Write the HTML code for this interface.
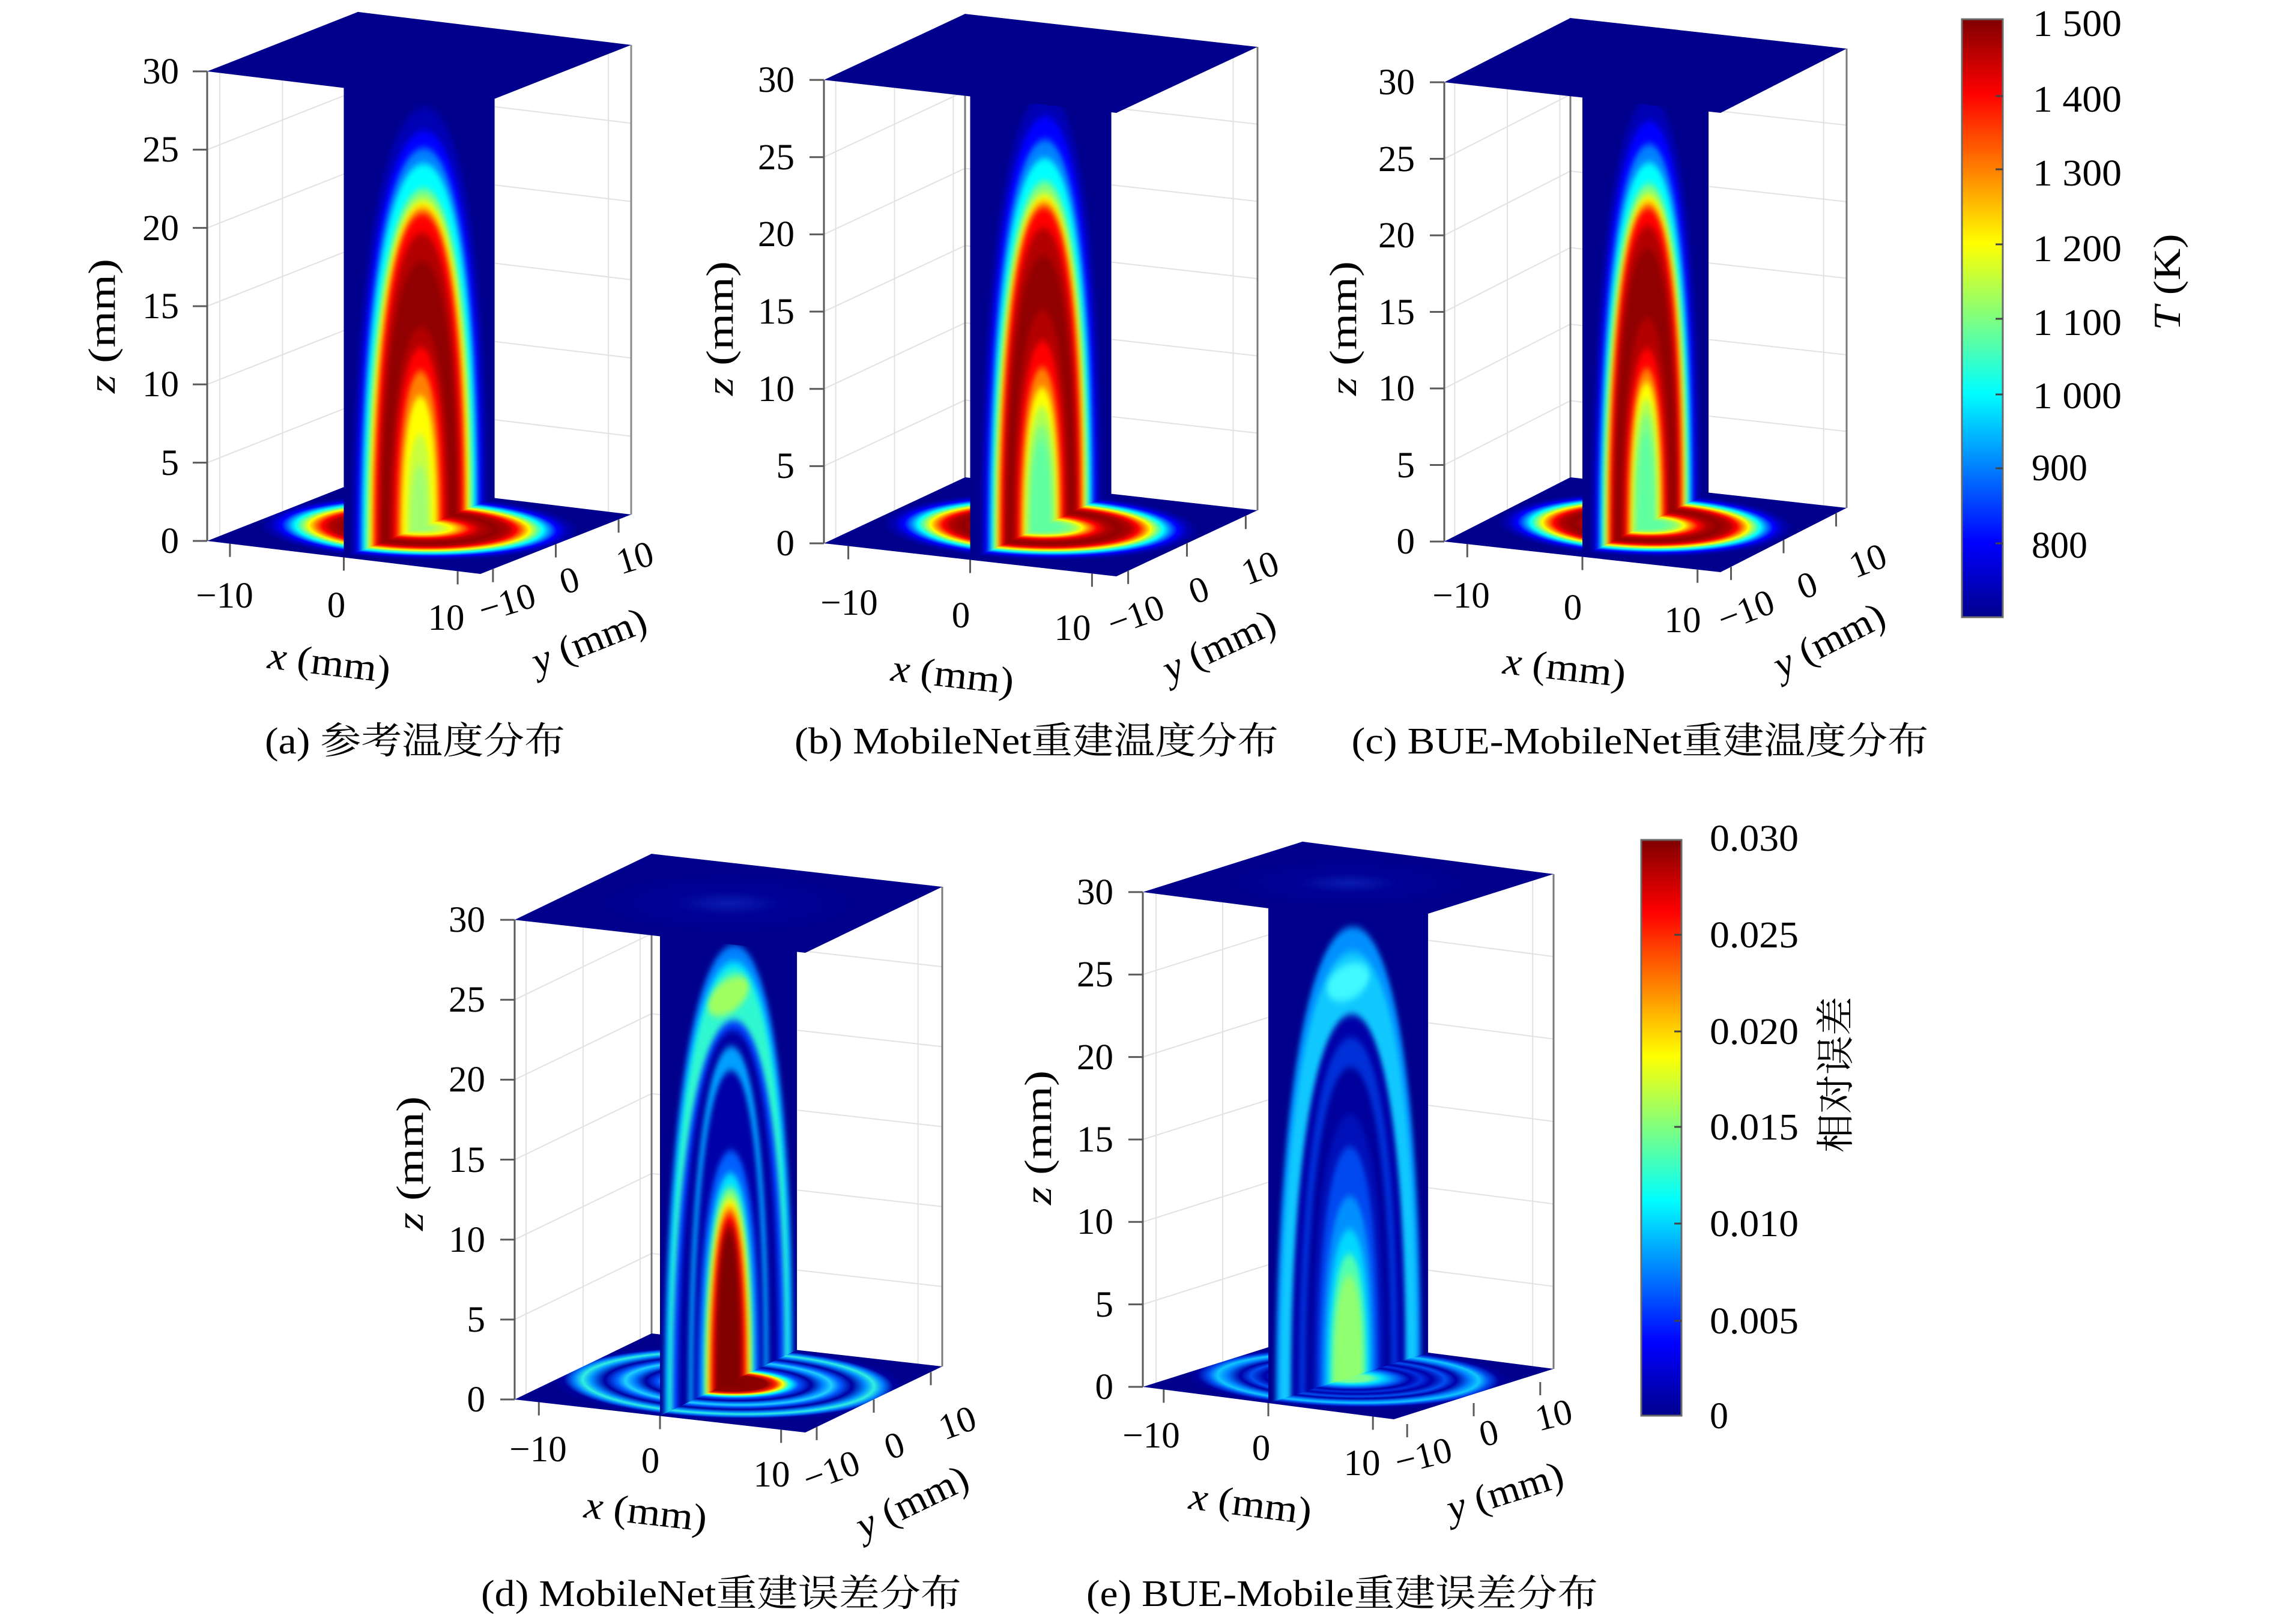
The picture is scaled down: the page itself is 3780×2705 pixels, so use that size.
<!DOCTYPE html>
<html>
<head>
<meta charset="utf-8">
<style>
html,body{margin:0;padding:0;background:#fff}
svg{display:block}
text{font-family:"Liberation Serif","Noto Serif CJK SC",serif;fill:#000}
.tk{font-size:61px}
.al{font-size:64px}
.cp{font-size:62px}
.cb{font-size:62px}
</style>
</head>
<body>
<svg xmlns="http://www.w3.org/2000/svg" width="3780" height="2705" viewBox="0 0 3780 2705">
<defs>
<path id="ar" d="M-1,-0.5L-1,0C-1,0.6 -0.6,1 0,1C0.6,1 1,0.6 1,0L1,-0.5Z"/>
<path id="gr" d="M-10,0V30M0,0V30M10,0V30M-12,5H12M-12,10H12M-12,15H12M-12,20H12M-12,25H12" fill="none" stroke="#e2e2e2" stroke-width="2" vector-effect="non-scaling-stroke"/>
<rect id="sq" x="-12" y="-12" width="24" height="24"/>
<filter id="blr" x="-3%" y="-3%" width="106%" height="106%" color-interpolation-filters="sRGB"><feGaussianBlur stdDeviation="4 6"/></filter>

<linearGradient id="jet" x1="0" y1="0" x2="0" y2="1">
<stop offset="0" stop-color="#800000"/><stop offset="0.125" stop-color="#ff0000"/><stop offset="0.375" stop-color="#ffff00"/><stop offset="0.625" stop-color="#00ffff"/><stop offset="0.875" stop-color="#0000ff"/><stop offset="1" stop-color="#00008c"/>
</linearGradient>

<radialGradient id="fa" gradientUnits="userSpaceOnUse" cx="0" cy="0" r="12" gradientTransform="scale(1.12,1)">
<stop offset="0" stop-color="#a0ff70"/><stop offset="0.06" stop-color="#a0ff70"/><stop offset="0.13" stop-color="#c8ff40"/><stop offset="0.19" stop-color="#ffff00"/><stop offset="0.245" stop-color="#ff8000"/><stop offset="0.3" stop-color="#ff0000"/><stop offset="0.36" stop-color="#b30000"/><stop offset="0.445" stop-color="#900000"/><stop offset="0.521" stop-color="#b30000"/><stop offset="0.567" stop-color="#ff0000"/><stop offset="0.608" stop-color="#ff8000"/><stop offset="0.646" stop-color="#ffff00"/><stop offset="0.683" stop-color="#80ff80"/><stop offset="0.725" stop-color="#00ffff"/><stop offset="0.767" stop-color="#0080ff"/><stop offset="0.808" stop-color="#0000ff"/><stop offset="0.867" stop-color="#0000b3"/><stop offset="0.933" stop-color="#00008c"/><stop offset="1" stop-color="#00008c"/>
</radialGradient>
<radialGradient id="fb" gradientUnits="userSpaceOnUse" cx="0" cy="0" r="12" gradientTransform="scale(1.12,1)">
<stop offset="0" stop-color="#60ffa0"/><stop offset="0.1" stop-color="#60ffa0"/><stop offset="0.1625" stop-color="#80ff80"/><stop offset="0.2" stop-color="#b3ff4d"/><stop offset="0.233" stop-color="#ffff00"/><stop offset="0.271" stop-color="#ff8000"/><stop offset="0.317" stop-color="#ff0000"/><stop offset="0.367" stop-color="#b30000"/><stop offset="0.4375" stop-color="#900000"/><stop offset="0.504" stop-color="#b30000"/><stop offset="0.546" stop-color="#ff0000"/><stop offset="0.583" stop-color="#ff8000"/><stop offset="0.617" stop-color="#ffff00"/><stop offset="0.65" stop-color="#80ff80"/><stop offset="0.6875" stop-color="#00ffff"/><stop offset="0.725" stop-color="#0080ff"/><stop offset="0.767" stop-color="#0000ff"/><stop offset="0.821" stop-color="#0000b3"/><stop offset="0.883" stop-color="#00008c"/><stop offset="1" stop-color="#00008c"/>
</radialGradient>
<radialGradient id="fd" gradientUnits="userSpaceOnUse" cx="0" cy="0" r="12" gradientTransform="scale(1.12,1)">
<stop offset="0" stop-color="#800000"/><stop offset="0.217" stop-color="#900000"/><stop offset="0.267" stop-color="#ff2000"/><stop offset="0.308" stop-color="#ffff00"/><stop offset="0.35" stop-color="#00ffff"/><stop offset="0.4" stop-color="#0050ff"/><stop offset="0.467" stop-color="#0000a0"/><stop offset="0.533" stop-color="#0080ff"/><stop offset="0.583" stop-color="#20d0ff"/><stop offset="0.633" stop-color="#0060ff"/><stop offset="0.7" stop-color="#0000a0"/><stop offset="0.775" stop-color="#0090ff"/><stop offset="0.825" stop-color="#30f0e0"/><stop offset="0.875" stop-color="#0080ff"/><stop offset="0.933" stop-color="#0000a0"/><stop offset="1" stop-color="#00008c"/>
</radialGradient>
<radialGradient id="fe" gradientUnits="userSpaceOnUse" cx="0" cy="0" r="12" gradientTransform="scale(1.12,1)">
<stop offset="0" stop-color="#90ff70"/><stop offset="0.133" stop-color="#70ffa0"/><stop offset="0.208" stop-color="#00e0ff"/><stop offset="0.258" stop-color="#00a0ff"/><stop offset="0.317" stop-color="#0050f0"/><stop offset="0.383" stop-color="#0000a8"/><stop offset="0.45" stop-color="#0030e0"/><stop offset="0.517" stop-color="#0000a8"/><stop offset="0.6" stop-color="#0050f0"/><stop offset="0.667" stop-color="#0000a8"/><stop offset="0.75" stop-color="#0080ff"/><stop offset="0.808" stop-color="#10c8ff"/><stop offset="0.867" stop-color="#0050f0"/><stop offset="0.933" stop-color="#0000a0"/><stop offset="1" stop-color="#00008c"/>
</radialGradient>
<radialGradient id="ft" gradientUnits="userSpaceOnUse" cx="0" cy="0" r="10">
<stop offset="0" stop-color="#0a1cb0"/><stop offset="0.4" stop-color="#000096"/><stop offset="1" stop-color="#00008c"/>
</radialGradient>

<clipPath id="ca"><polygon points="572.48,928.5 823.52,829.5 823.52,47.4 572.48,146.4"/></clipPath>
<clipPath id="cbb"><polygon points="1615.52,932.46 1850.48,822.54 1850.48,50.64 1615.52,160.56"/></clipPath>
<clipPath id="cc"><polygon points="2635,927.52 2845,820.48 2845,55.48 2635,162.52"/></clipPath>
<clipPath id="cd"><polygon points="1099,2358.46 1327,2248.54 1327,1449.64 1099,1559.56"/></clipPath>
<clipPath id="ce"><polygon points="2112.04,2337 2377.96,2253 2377.96,1428.9 2112.04,1512.9"/></clipPath>
</defs>

<rect width="3780" height="2705" fill="#fff"/>

<!-- ================= Panel (a) ================= -->
<g>
<use href="#gr" transform="matrix(10.46,-4.125,0,-26.07,470.48,851.52)"/>
<use href="#gr" transform="matrix(18.96,2.29,0,-26.07,823.52,829.5)"/>
<path d="M596,19.9V802M1051,74.9V857" stroke="#8a8a8a" stroke-width="3" fill="none"/>
<path d="M345,118.9V901" stroke="#5a5a5a" stroke-width="3" fill="none"/>
<g transform="matrix(18.96,2.29,10.46,-4.125,698,879)"><use href="#sq" fill="url(#fa)"/></g>
<g clip-path="url(#ca)"><g filter="url(#blr)"><g transform="matrix(10.46,-4.125,0,-26.07,698,879)">
<rect x="-13" y="-14" width="26" height="46" fill="#00008c"/>
<use href="#ar" transform="scale(10.7,26.8)" fill="#0000b3"/>
<use href="#ar" transform="scale(10,25.3)" fill="#0000ff"/>
<use href="#ar" transform="scale(9.4,24.2)" fill="#0080ff"/>
<use href="#ar" transform="scale(9,23.2)" fill="#00ffff"/>
<use href="#ar" transform="scale(8.4,21.6)" fill="#80ff80"/>
<use href="#ar" transform="scale(8,20.9)" fill="#ffff00"/>
<use href="#ar" transform="scale(7.5,20.4)" fill="#ff8000"/>
<use href="#ar" transform="scale(7.1,20)" fill="#ff0000"/>
<use href="#ar" transform="scale(6.5,18.8)" fill="#b30000"/>
<use href="#ar" transform="scale(6,17)" fill="#900000"/>
<use href="#ar" transform="scale(4.7,12.8)" fill="#b30000"/>
<use href="#ar" transform="scale(4.1,11.5)" fill="#ff0000"/>
<use href="#ar" transform="scale(3.4,10)" fill="#ff8000"/>
<use href="#ar" transform="scale(2.8,8.4)" fill="#ffff00"/>
<use href="#ar" transform="scale(2,6)" fill="#c8ff40"/>
<use href="#ar" transform="scale(1.4,4)" fill="#a0ff70"/>
</g></g></g>
<g transform="matrix(18.96,2.29,10.46,-4.125,698,96.9)"><use href="#sq" fill="#00008c"/></g>
<path d="M321,901H345M321,770.65H345M321,640.3H345M321,509.95H345M321,379.6H345M321,249.25H345M321,118.9H345M382.9,905.6v22M572.5,928.5v22M762.1,951.4v22M820.9,947.7v22M925.5,906.5v22M1030.1,865.2v22" stroke="#5a5a5a" stroke-width="3" fill="none"/>
<g class="tk" text-anchor="end">
<text x="298" y="921">0</text><text x="298" y="791">5</text><text x="298" y="660">10</text><text x="298" y="530">15</text><text x="298" y="400">20</text><text x="298" y="269">25</text><text x="298" y="139">30</text>
</g>
<g class="tk" text-anchor="middle">
<text x="374" y="1012">−10</text><text x="560" y="1028">0</text><text x="743" y="1049">10</text>
<text transform="translate(844,1003) rotate(-17)" y="21">−10</text>
<text transform="translate(948,966) rotate(-17)" y="21">0</text>
<text transform="translate(1057,928) rotate(-17)" y="21">10</text>
</g>
<text class="al" transform="translate(548,1107) rotate(6.9)" y="18" text-anchor="middle" textLength="205" lengthAdjust="spacingAndGlyphs"><tspan font-style="italic">x</tspan> (mm)</text>
<text class="al" transform="translate(982,1070) rotate(-21.5)" y="18" text-anchor="middle" textLength="200" lengthAdjust="spacingAndGlyphs"><tspan font-style="italic">y</tspan> (mm)</text>
<text class="al" transform="translate(173,543) rotate(-90)" y="18" text-anchor="middle" textLength="224" lengthAdjust="spacingAndGlyphs"><tspan font-style="italic">z</tspan> (mm)</text>
<text class="cp" x="691" y="1255" text-anchor="middle" textLength="500" lengthAdjust="spacingAndGlyphs">(a) 参考温度分布</text>
</g>

<!-- ================= Panel (b) ================= -->
<g>
<use href="#gr" transform="matrix(9.79,-4.58,0,-25.73,1489.52,850.02)"/>
<use href="#gr" transform="matrix(20.29,2.29,0,-25.73,1850.48,822.54)"/>
<path d="M1607,23.2V795.1M2094,78.1V850" stroke="#7a7a7a" stroke-width="3" fill="none"/>
<path d="M1372,133.1V905" stroke="#5a5a5a" stroke-width="3" fill="none"/>
<g transform="matrix(20.29,2.29,9.79,-4.58,1733,877.5)"><use href="#sq" fill="url(#fb)"/></g>
<g clip-path="url(#cbb)"><g filter="url(#blr)"><g transform="matrix(9.79,-4.58,0,-25.73,1733,877.5)">
<rect x="-13" y="-14" width="26" height="46" fill="#00008c"/>
<use href="#ar" transform="scale(10.2,28)" fill="#0000b3"/>
<use href="#ar" transform="scale(9.5,26.5)" fill="#0000ff"/>
<use href="#ar" transform="scale(8.9,25)" fill="#0080ff"/>
<use href="#ar" transform="scale(8.5,23.8)" fill="#00ffff"/>
<use href="#ar" transform="scale(8,22.3)" fill="#80ff80"/>
<use href="#ar" transform="scale(7.6,21.5)" fill="#ffff00"/>
<use href="#ar" transform="scale(7.2,21)" fill="#ff8000"/>
<use href="#ar" transform="scale(6.8,20.6)" fill="#ff0000"/>
<use href="#ar" transform="scale(6.3,19.3)" fill="#b30000"/>
<use href="#ar" transform="scale(5.8,17.5)" fill="#900000"/>
<use href="#ar" transform="scale(4.7,14)" fill="#b30000"/>
<use href="#ar" transform="scale(4.1,12)" fill="#ff0000"/>
<use href="#ar" transform="scale(3.5,10.3)" fill="#ff8000"/>
<use href="#ar" transform="scale(3,9)" fill="#ffff00"/>
<use href="#ar" transform="scale(2.6,7.8)" fill="#b3ff4d"/>
<use href="#ar" transform="scale(2.2,6.6)" fill="#80ff80"/>
<use href="#ar" transform="scale(1.7,5.6)" fill="#60ffa0"/>
</g></g></g>
<g transform="matrix(20.29,2.29,9.79,-4.58,1733,105.6)"><use href="#sq" fill="#00008c"/></g>
<path d="M1348,905H1372M1348,776.35H1372M1348,647.7H1372M1348,519.05H1372M1348,390.4H1372M1348,261.75H1372M1348,133.1H1372M1412.6,909.6v22M1615.5,932.5v22M1818.4,955.4v22M1878.6,950.8v22M1976.5,905v22M2074.4,859.2v22" stroke="#5a5a5a" stroke-width="3" fill="none"/>
<g class="tk" text-anchor="end">
<text x="1323" y="925">0</text><text x="1323" y="796">5</text><text x="1323" y="668">10</text><text x="1323" y="539">15</text><text x="1323" y="410">20</text><text x="1323" y="282">25</text><text x="1323" y="153">30</text>
</g>
<g class="tk" text-anchor="middle">
<text x="1414" y="1024">−10</text><text x="1600" y="1045">0</text><text x="1786" y="1066">10</text>
<text transform="translate(1891,1024) rotate(-20)" y="21">−10</text>
<text transform="translate(1996,982) rotate(-20)" y="21">0</text>
<text transform="translate(2098,945) rotate(-20)" y="21">10</text>
</g>
<text class="al" transform="translate(1586,1127) rotate(6.4)" y="18" text-anchor="middle" textLength="205" lengthAdjust="spacingAndGlyphs"><tspan font-style="italic">x</tspan> (mm)</text>
<text class="al" transform="translate(2031,1078) rotate(-25.1)" y="18" text-anchor="middle" textLength="200" lengthAdjust="spacingAndGlyphs"><tspan font-style="italic">y</tspan> (mm)</text>
<text class="al" transform="translate(1202,547) rotate(-90)" y="18" text-anchor="middle" textLength="224" lengthAdjust="spacingAndGlyphs"><tspan font-style="italic">z</tspan> (mm)</text>
<text class="cp" x="1726" y="1255" text-anchor="middle" textLength="806" lengthAdjust="spacingAndGlyphs">(b) MobileNet重建温度分布</text>
</g>

<!-- ================= Panel (c) ================= -->
<g>
<use href="#gr" transform="matrix(8.75,-4.46,0,-25.5,2509.96,848.5)"/>
<use href="#gr" transform="matrix(19.17,2.125,0,-25.5,2845,820.48)"/>
<path d="M2615,30V795M3075,81V846" stroke="#7a7a7a" stroke-width="3" fill="none"/>
<path d="M2405,137V902" stroke="#5a5a5a" stroke-width="3" fill="none"/>
<g transform="matrix(19.17,2.125,8.75,-4.46,2740,874)"><use href="#sq" fill="url(#fb)"/></g>
<g clip-path="url(#cc)"><g filter="url(#blr)"><g transform="matrix(8.75,-4.46,0,-25.5,2740,874)">
<rect x="-13" y="-14" width="26" height="46" fill="#00008c"/>
<use href="#ar" transform="scale(10.2,27.8)" fill="#0000b3"/>
<use href="#ar" transform="scale(9.5,26.3)" fill="#0000ff"/>
<use href="#ar" transform="scale(8.9,24.8)" fill="#0080ff"/>
<use href="#ar" transform="scale(8.5,23.6)" fill="#00ffff"/>
<use href="#ar" transform="scale(8,22.2)" fill="#80ff80"/>
<use href="#ar" transform="scale(7.6,21.5)" fill="#ffff00"/>
<use href="#ar" transform="scale(7.2,21)" fill="#ff8000"/>
<use href="#ar" transform="scale(6.8,20.6)" fill="#ff0000"/>
<use href="#ar" transform="scale(6.3,19.5)" fill="#b30000"/>
<use href="#ar" transform="scale(5.8,18)" fill="#900000"/>
<use href="#ar" transform="scale(4.6,13.5)" fill="#b30000"/>
<use href="#ar" transform="scale(4,11.5)" fill="#ff0000"/>
<use href="#ar" transform="scale(3.4,10.2)" fill="#ff8000"/>
<use href="#ar" transform="scale(2.9,9.3)" fill="#ffff00"/>
<use href="#ar" transform="scale(2.5,8.2)" fill="#b3ff4d"/>
<use href="#ar" transform="scale(2.1,7.2)" fill="#80ff80"/>
<use href="#ar" transform="scale(1.6,6)" fill="#60ffa0"/>
</g></g></g>
<g transform="matrix(19.17,2.125,8.75,-4.46,2740,109)"><use href="#sq" fill="#00008c"/></g>
<path d="M2381,902H2405M2381,774.5H2405M2381,647H2405M2381,519.5H2405M2381,392H2405M2381,264.5H2405M2381,137H2405M2443.3,906.3v22M2635,927.5v22M2826.7,948.8v22M2882.5,944.1v22M2970,899.5v22M3057.5,854.9v22" stroke="#5a5a5a" stroke-width="3" fill="none"/>
<g class="tk" text-anchor="end">
<text x="2356" y="922">0</text><text x="2356" y="795">5</text><text x="2356" y="667">10</text><text x="2356" y="540">15</text><text x="2356" y="412">20</text><text x="2356" y="285">25</text><text x="2356" y="157">30</text>
</g>
<g class="tk" text-anchor="middle">
<text x="2433" y="1012">−10</text><text x="2619" y="1032">0</text><text x="2802" y="1053">10</text>
<text transform="translate(2907,1016) rotate(-21)" y="21">−10</text>
<text transform="translate(3009,974) rotate(-21)" y="21">0</text>
<text transform="translate(3110,933) rotate(-21)" y="21">10</text>
</g>
<text class="al" transform="translate(2605,1115) rotate(6.3)" y="18" text-anchor="middle" textLength="205" lengthAdjust="spacingAndGlyphs"><tspan font-style="italic">x</tspan> (mm)</text>
<text class="al" transform="translate(3047,1069) rotate(-27)" y="18" text-anchor="middle" textLength="200" lengthAdjust="spacingAndGlyphs"><tspan font-style="italic">y</tspan> (mm)</text>
<text class="al" transform="translate(2240,547) rotate(-90)" y="18" text-anchor="middle" textLength="224" lengthAdjust="spacingAndGlyphs"><tspan font-style="italic">z</tspan> (mm)</text>
<text class="cp" x="2731" y="1255" text-anchor="middle" textLength="961" lengthAdjust="spacingAndGlyphs">(c) BUE-MobileNet重建温度分布</text>
</g>

<!-- ================= Colorbar 1 ================= -->
<g>
<rect x="3267" y="32" width="68" height="996" fill="url(#jet)" stroke="#6a6a6a" stroke-width="3"/>
<path d="M3323,160H3335M3323,282H3335M3323,407H3335M3323,531H3335M3323,657H3335M3323,780H3335M3323,905H3335" stroke="#444" stroke-width="3"/>
<g class="cb">
<text x="3385" y="60" textLength="148" lengthAdjust="spacingAndGlyphs">1 500</text>
<text x="3385" y="186" textLength="148" lengthAdjust="spacingAndGlyphs">1 400</text>
<text x="3385" y="309" textLength="148" lengthAdjust="spacingAndGlyphs">1 300</text>
<text x="3385" y="435" textLength="148" lengthAdjust="spacingAndGlyphs">1 200</text>
<text x="3385" y="558" textLength="148" lengthAdjust="spacingAndGlyphs">1 100</text>
<text x="3385" y="680" textLength="148" lengthAdjust="spacingAndGlyphs">1 000</text>
<text x="3383" y="800">900</text>
<text x="3383" y="929">800</text>
</g>
<text class="al" transform="translate(3609,470) rotate(-90)" y="21" text-anchor="middle" textLength="161" lengthAdjust="spacingAndGlyphs"><tspan font-style="italic">T</tspan> (K)</text>
</g>

<!-- ================= Panel (d) ================= -->
<g>
<use href="#gr" transform="matrix(9.5,-4.58,0,-26.63,970.96,2276.02)"/>
<use href="#gr" transform="matrix(20.17,2.29,0,-26.63,1327,2248.54)"/>
<path d="M1085,1422.2V2221.1M1569,1477.1V2276" stroke="#7a7a7a" stroke-width="3" fill="none"/>
<path d="M857,1532.1V2331" stroke="#5a5a5a" stroke-width="3" fill="none"/>
<g transform="matrix(20.17,2.29,9.5,-4.58,1213,2303.5)"><use href="#sq" fill="url(#fd)"/></g>
<g clip-path="url(#cd)"><g filter="url(#blr)"><g transform="matrix(9.5,-4.58,0,-26.63,1213,2303.5)">
<rect x="-13" y="-14" width="26" height="46" fill="#00008c"/>
<use href="#ar" transform="scale(11.3,27.3)" fill="#0080ff"/>
<use href="#ar" transform="scale(10.8,26.3)" fill="#00e0ff"/>
<use href="#ar" transform="scale(10.4,25.8)" fill="#30f8d0"/>
<ellipse cx="0" cy="24.2" rx="3.6" ry="1.1" fill="#a0ff60"/>
<use href="#ar" transform="scale(9.8,22.6)" fill="#0040ff"/>
<use href="#ar" transform="scale(8.8,22)" fill="#0000a0"/>
<use href="#ar" transform="scale(7,21)" fill="#00a0ff"/>
<use href="#ar" transform="scale(6.2,19.5)" fill="#0000a8"/>
<use href="#ar" transform="scale(5.4,14.5)" fill="#0060ff"/>
<use href="#ar" transform="scale(4.6,13.1)" fill="#00e0ff"/>
<use href="#ar" transform="scale(4.2,12.2)" fill="#80ff80"/>
<use href="#ar" transform="scale(3.8,11.5)" fill="#ffff00"/>
<use href="#ar" transform="scale(3.4,11)" fill="#ff8000"/>
<use href="#ar" transform="scale(3,10.5)" fill="#ff0000"/>
<use href="#ar" transform="scale(2.5,10)" fill="#b00000"/>
<use href="#ar" transform="scale(2.1,9.5)" fill="#800000"/>
</g></g></g>
<g transform="matrix(20.17,2.29,9.5,-4.58,1213,1504.6)"><use href="#sq" fill="url(#ft)"/></g>
<path d="M833,2331H857M833,2197.85H857M833,2064.7H857M833,1931.55H857M833,1798.4H857M833,1665.25H857M833,1532.1H857M897.3,2335.6v22M1099,2358.5v22M1300.7,2381.4v22M1360,2376.8v22M1455,2331v22M1550,2285.2v22" stroke="#5a5a5a" stroke-width="3" fill="none"/>
<g class="tk" text-anchor="end">
<text x="808" y="2351">0</text><text x="808" y="2218">5</text><text x="808" y="2085">10</text><text x="808" y="1952">15</text><text x="808" y="1818">20</text><text x="808" y="1685">25</text><text x="808" y="1552">30</text>
</g>
<g class="tk" text-anchor="middle">
<text x="896" y="2434">−10</text><text x="1083" y="2453">0</text><text x="1285" y="2476">10</text>
<text transform="translate(1384,2449) rotate(-20)" y="21">−10</text>
<text transform="translate(1489,2407) rotate(-20)" y="21">0</text>
<text transform="translate(1594,2369) rotate(-20)" y="21">10</text>
</g>
<text class="al" transform="translate(1075,2521) rotate(6.5)" y="18" text-anchor="middle" textLength="205" lengthAdjust="spacingAndGlyphs"><tspan font-style="italic">x</tspan> (mm)</text>
<text class="al" transform="translate(1520,2504) rotate(-25.7)" y="18" text-anchor="middle" textLength="200" lengthAdjust="spacingAndGlyphs"><tspan font-style="italic">y</tspan> (mm)</text>
<text class="al" transform="translate(686,1938) rotate(-90)" y="18" text-anchor="middle" textLength="224" lengthAdjust="spacingAndGlyphs"><tspan font-style="italic">z</tspan> (mm)</text>
<text class="cp" x="1201" y="2675" text-anchor="middle" textLength="800" lengthAdjust="spacingAndGlyphs">(d) MobileNet重建误差分布</text>
</g>

<!-- ================= Panel (e) ================= -->
<g>
<use href="#gr" transform="matrix(11.08,-3.5,0,-27.47,2035.96,2268)"/>
<use href="#gr" transform="matrix(17.42,2.25,0,-27.47,2377.96,2253)"/>
<path d="M2169,1401.9V2226M2587,1455.9V2280" stroke="#7a7a7a" stroke-width="3" fill="none"/>
<path d="M1903,1485.9V2310" stroke="#5a5a5a" stroke-width="3" fill="none"/>
<g transform="matrix(17.42,2.25,11.08,-3.5,2245,2295)"><use href="#sq" fill="url(#fe)"/></g>
<g clip-path="url(#ce)"><g filter="url(#blr)"><g transform="matrix(11.08,-3.5,0,-27.47,2245,2295)">
<rect x="-13" y="-14" width="26" height="46" fill="#00008c"/>
<use href="#ar" transform="scale(10.9,27.3)" fill="#0090ff"/>
<use href="#ar" transform="scale(10.3,25.8)" fill="#10c8ff"/>
<ellipse cx="0" cy="24" rx="3.2" ry="1.1" fill="#40f8ff"/>
<use href="#ar" transform="scale(8.6,22)" fill="#0000a8"/>
<use href="#ar" transform="scale(7.4,20.6)" fill="#0030d8"/>
<use href="#ar" transform="scale(6.4,18.8)" fill="#00009c"/>
<use href="#ar" transform="scale(5.4,16)" fill="#0010b8"/>
<use href="#ar" transform="scale(4.6,14)" fill="#0048f0"/>
<use href="#ar" transform="scale(3.9,11)" fill="#0090ff"/>
<use href="#ar" transform="scale(3.3,9)" fill="#00d8ff"/>
<use href="#ar" transform="scale(2.7,7.5)" fill="#50ffb0"/>
<use href="#ar" transform="scale(2.2,6.2)" fill="#90ff70"/>
</g></g></g>
<g transform="matrix(17.42,2.25,11.08,-3.5,2245,1470.9)"><use href="#sq" fill="url(#ft)"/></g>
<path d="M1879,2310H1903M1879,2172.65H1903M1879,2035.3H1903M1879,1897.95H1903M1879,1760.6H1903M1879,1623.25H1903M1879,1485.9H1903M1937.8,2314.5v22M2112,2337v22M2286.2,2359.5v22M2343.2,2372v22M2454,2337v22M2564.8,2302v22" stroke="#5a5a5a" stroke-width="3" fill="none"/>
<g class="tk" text-anchor="end">
<text x="1854" y="2330">0</text><text x="1854" y="2193">5</text><text x="1854" y="2055">10</text><text x="1854" y="1918">15</text><text x="1854" y="1781">20</text><text x="1854" y="1643">25</text><text x="1854" y="1506">30</text>
</g>
<g class="tk" text-anchor="middle">
<text x="1917" y="2411">−10</text><text x="2100" y="2432">0</text><text x="2268" y="2457">10</text>
<text transform="translate(2370,2424) rotate(-14)" y="21">−10</text>
<text transform="translate(2479,2386) rotate(-14)" y="21">0</text>
<text transform="translate(2587,2356) rotate(-14)" y="21">10</text>
</g>
<text class="al" transform="translate(2082,2508) rotate(7.4)" y="18" text-anchor="middle" textLength="205" lengthAdjust="spacingAndGlyphs"><tspan font-style="italic">x</tspan> (mm)</text>
<text class="al" transform="translate(2507,2487) rotate(-17.5)" y="18" text-anchor="middle" textLength="200" lengthAdjust="spacingAndGlyphs"><tspan font-style="italic">y</tspan> (mm)</text>
<text class="al" transform="translate(1732,1895) rotate(-90)" y="18" text-anchor="middle" textLength="224" lengthAdjust="spacingAndGlyphs"><tspan font-style="italic">z</tspan> (mm)</text>
<text class="cp" x="2235" y="2675" text-anchor="middle" textLength="852" lengthAdjust="spacingAndGlyphs">(e) BUE-Mobile重建误差分布</text>
</g>

<!-- ================= Colorbar 2 ================= -->
<g>
<rect x="2733" y="1399" width="67" height="959" fill="url(#jet)" stroke="#6a6a6a" stroke-width="3"/>
<path d="M2788,1557H2800M2788,1718H2800M2788,1877H2800M2788,2038H2800M2788,2200H2800" stroke="#444" stroke-width="3"/>
<g class="cb">
<text x="2847" y="1417" textLength="148" lengthAdjust="spacingAndGlyphs">0.030</text>
<text x="2847" y="1578" textLength="148" lengthAdjust="spacingAndGlyphs">0.025</text>
<text x="2847" y="1739" textLength="148" lengthAdjust="spacingAndGlyphs">0.020</text>
<text x="2847" y="1898" textLength="148" lengthAdjust="spacingAndGlyphs">0.015</text>
<text x="2847" y="2059" textLength="148" lengthAdjust="spacingAndGlyphs">0.010</text>
<text x="2847" y="2221" textLength="148" lengthAdjust="spacingAndGlyphs">0.005</text>
<text x="2847" y="2379">0</text>
</g>
<text class="al" transform="translate(3056,1790) rotate(-90)" y="23" text-anchor="middle" textLength="260" lengthAdjust="spacingAndGlyphs">相对误差</text>
</g>
</svg>
</body>
</html>
